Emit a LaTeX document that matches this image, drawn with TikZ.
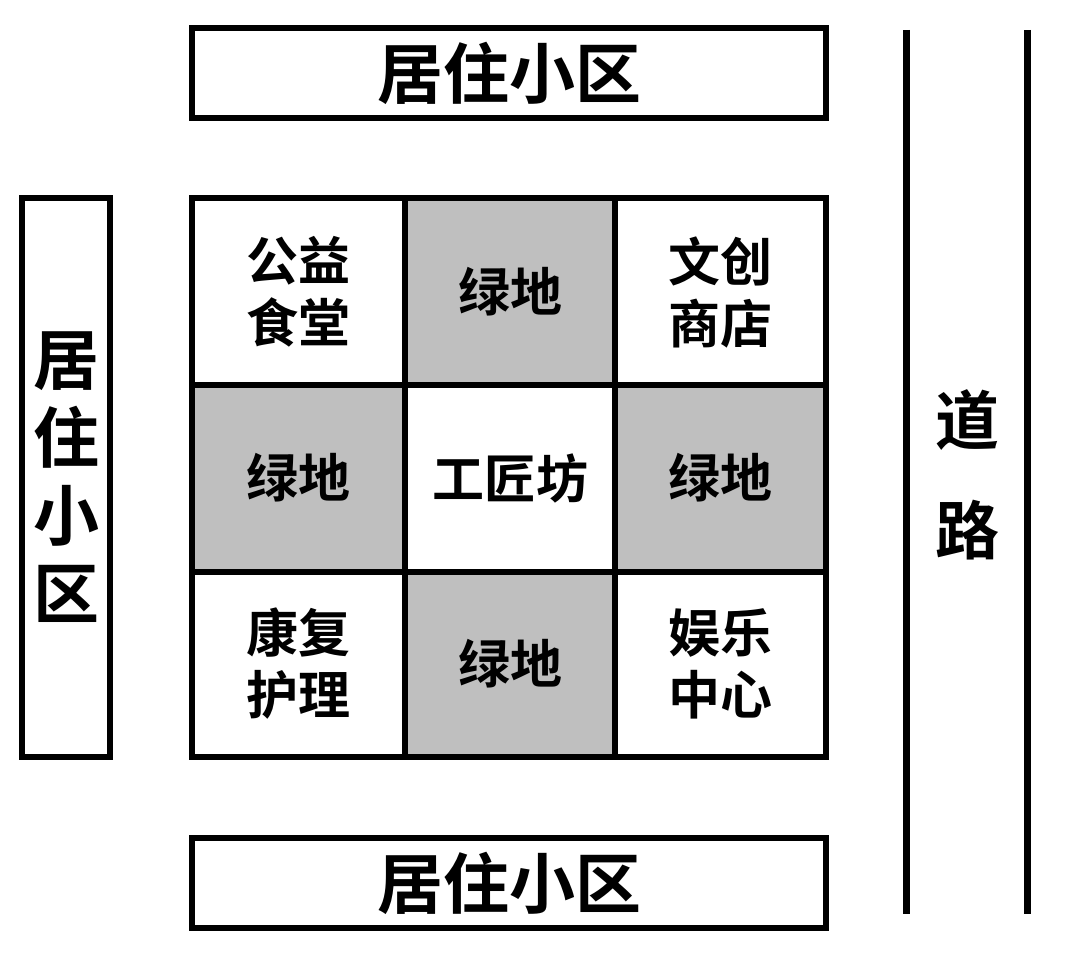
\documentclass[tikz,border=0pt]{standalone}
\usepackage{fontspec}
\newfontfamily\cjk{Noto Sans CJK SC Bold}
\begin{document}
\begin{tikzpicture}[x=1pt,y=-1pt,
  box/.style={draw=black,line width=6pt},
  green/.style={box,fill=black!25},
  big/.style={font=\cjk\fontsize{66}{70}\selectfont},
  cell/.style={font=\cjk\fontsize{52}{62}\selectfont,align=center}]
\useasboundingbox (0,0) rectangle (1080,973);
\node[box,minimum width=634pt,minimum height=90pt,big,inner sep=0pt] (top) at (509,73) {居住小区};
\node[box,minimum width=634pt,minimum height=90pt,big,inner sep=0pt] (bot) at (509,883) {居住小区};
\node[box,minimum width=88pt,minimum height=559pt,big,inner sep=0pt,align=center,font=\cjk\fontsize{66}{78}\selectfont] (left) at (66,477.5) {居\\住\\小\\区};
\draw[box,fill=white] (192,198) rectangle (826,757);
\fill[black!25] (405,198) rectangle (615,385);
\fill[black!25] (192,385) rectangle (405,572);
\fill[black!25] (615,385) rectangle (826,572);
\fill[black!25] (405,572) rectangle (615,757);
\draw[line width=6pt] (192,198) rectangle (826,757) (405,198) -- (405,757) (615,198) -- (615,757) (192,385) -- (826,385) (192,572) -- (826,572);
\node[cell] (a) at (298,292) {公益\\食堂};
\node[cell] (b) at (510,292) {绿地};
\node[cell] (c) at (720,292) {文创\\商店};
\node[cell] (d) at (298,478) {绿地};
\node[cell] (e) at (510,478) {工匠坊};
\node[cell] (f) at (720,478) {绿地};
\node[cell] (g) at (298,664) {康复\\护理};
\node[cell] (h) at (510,664) {绿地};
\node[cell] (i) at (720,664) {娱乐\\中心};
\coordinate (r1) at (906,30); \coordinate (r2) at (906,914);
\coordinate (r3) at (1027,30); \coordinate (r4) at (1027,914);
\draw[line width=7pt] (r1) -- (r2) (r3) -- (r4);
\node[align=center,font=\cjk\fontsize{64}{110}\selectfont] (road) at (967,475) {道\\路};
\end{tikzpicture}
\end{document}
